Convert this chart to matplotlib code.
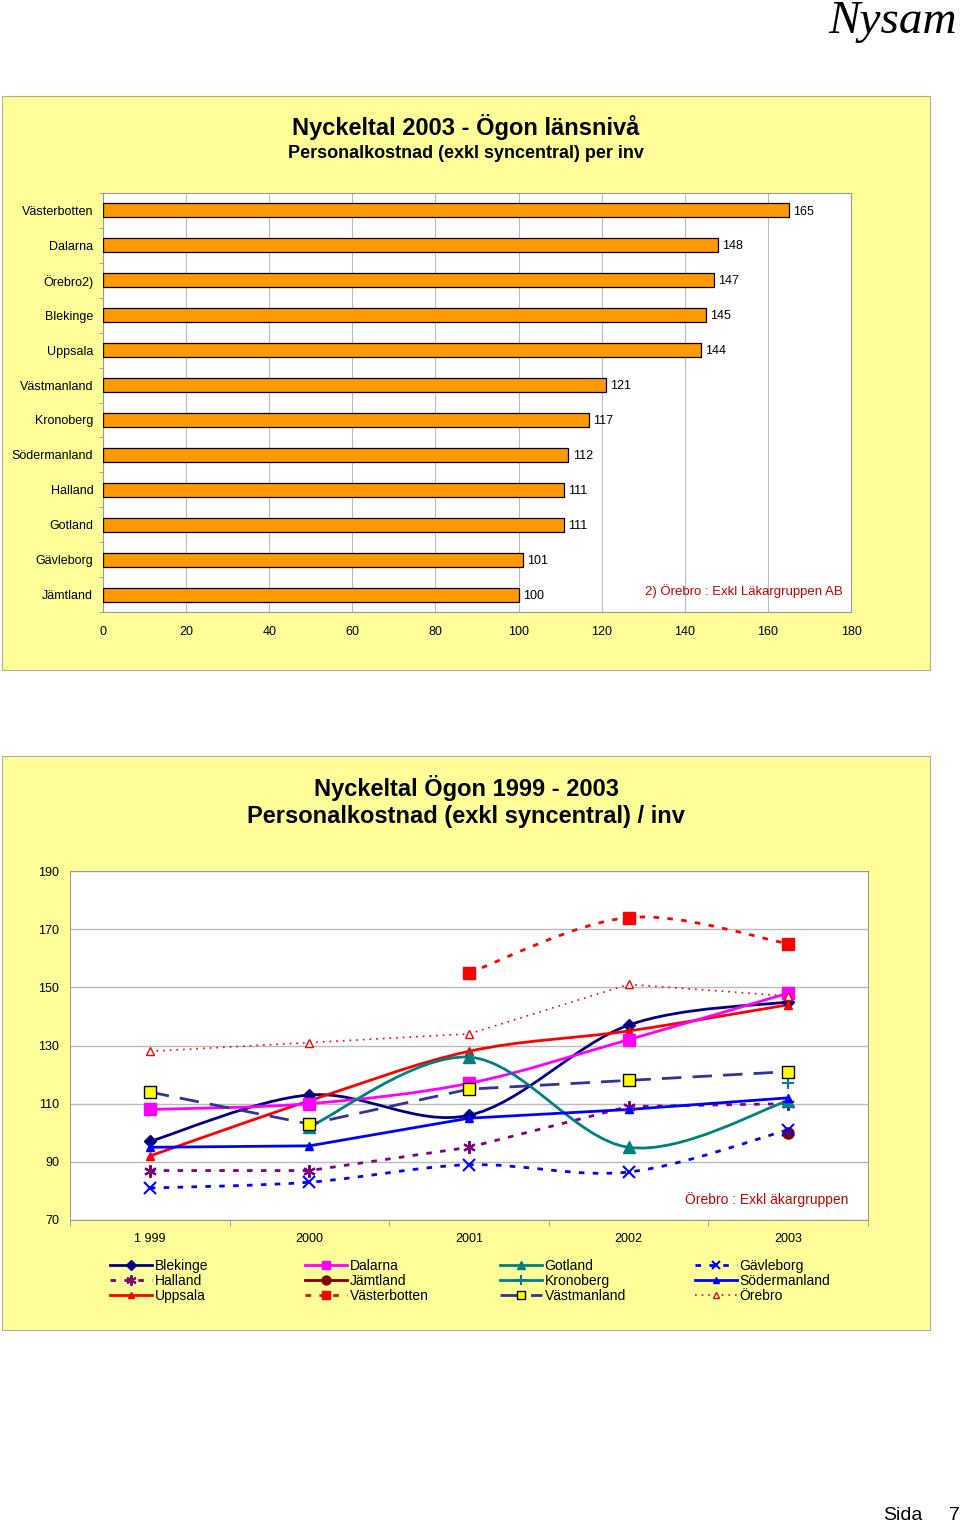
import numpy as np
import matplotlib
matplotlib.use("Agg")
import matplotlib.pyplot as plt
from matplotlib.patches import Rectangle, PathPatch
from matplotlib.path import Path
from matplotlib.lines import Line2D

plt.rcParams['font.family'] = ['Liberation Sans', 'DejaVu Sans']

# bar chart data (top to bottom)
bar_labels = ['Västerbotten', 'Dalarna', 'Örebro2)', 'Blekinge', 'Uppsala', 'Västmanland',
              'Kronoberg', 'Södermanland', 'Halland', 'Gotland', 'Gävleborg', 'Jämtland']
bar_values = [165, 148, 147, 145, 144, 121, 117, 112, 111, 111, 101, 100]

# line chart data
years = ['1 999', '2000', '2001', '2002', '2003']
blekinge = [97, 113, 106, 137, 145]
dalarna = [108, 110, 117, 132, 148]
gotland = [None, 102, 126, 95, 111]
gavleborg = [81, 83, 89, 86.5, 101]
halland = [87, 87, 95, 109, 110]
jamtland = [None, None, None, None, 100]
kronoberg = [None, None, None, None, 117]
sodermanland = [95, 95.5, 105, 108, 112]
uppsala = [92, 111, 128, 135, 144]
vasterbotten = [None, None, 155, 174, 165]
vastmanland = [114, 103, 115, 118, 121]
orebro = [128, 131, 134, 151, 147]

fig = plt.figure(figsize=(9.6, 15.24), dpi=100)
W, H = 960, 1524

def fx(px):
    return px / W

def fy(py):
    return 1 - py / H

# yellow backgrounds
for top, bot in [(96, 670), (756, 1330)]:
    fig.patches.append(Rectangle((fx(2), fy(bot)), fx(928), (bot - top) / H,
                                 transform=fig.transFigure, facecolor='#FFFF99',
                                 edgecolor='#B0B090', lw=0.8, zorder=-10))

fig.text(0.997, fy(22), 'Nysam', ha='right', va='center', fontsize=34,
         family='Liberation Serif', style='italic')
fig.text(fx(903), fy(1515), 'Sida', ha='center', va='center', fontsize=14)
fig.text(fx(954), fy(1515), '7', ha='center', va='center', fontsize=14)

# ---- bar chart ----
fig.text(fx(466), fy(127), 'Nyckeltal 2003 - Ögon länsnivå', ha='center', va='center',
         fontsize=17, fontweight='bold')
fig.text(fx(466), fy(154), 'Personalkostnad (exkl syncentral) per inv', ha='center',
         va='center', fontsize=13, fontweight='bold')

ax1 = fig.add_axes([fx(103), fy(612), fx(748), 419 / H])
pos = np.arange(len(bar_labels))
ax1.barh(pos, bar_values, height=0.4, color='#FF9900', edgecolor='black', lw=0.9, zorder=3)
for p, v in zip(pos, bar_values):
    ax1.text(v + 1, p + 0.03, str(v), va='center', ha='left', fontsize=9)
ax1.set_ylim(11.5, -0.5)
ax1.set_xlim(0, 180)
ax1.set_xticks(np.arange(0, 181, 20))
ax1.set_yticks(pos)
ax1.set_yticklabels(bar_labels)
ax1.set_yticks(np.arange(-0.5, 11.6, 1), minor=True)
ax1.tick_params(axis='y', which='major', length=0, labelsize=9, pad=7)
ax1.tick_params(axis='y', which='minor', length=3, color='#999999')
ax1.tick_params(axis='x', length=0, labelsize=9, pad=10)
ax1.grid(axis='x', color='#BBBBBB', lw=0.8, zorder=0)
for s in ax1.spines.values():
    s.set_color('#999999')
ax1.text(178, 10.9, '2) Örebro : Exkl Läkargruppen AB', color='#CC0000', ha='right',
         va='center', fontsize=9.5)

# ---- line chart ----
fig.text(fx(466), fy(788), 'Nyckeltal Ögon 1999 - 2003', ha='center', va='center',
         fontsize=17, fontweight='bold')
fig.text(fx(466), fy(817), 'Personalkostnad (exkl syncentral) / inv', ha='center',
         va='center', fontsize=17, fontweight='bold')

ax2 = fig.add_axes([fx(70), fy(1220), fx(798), 349 / H])
ax2.set_facecolor('white')
ax2.set_xlim(-0.5, 4.5)
ax2.set_ylim(70, 190)
ax2.set_yticks(np.arange(70, 191, 20))
ax2.set_xticks(np.arange(len(years)))
ax2.set_xticklabels(years)
ax2.set_xticks(np.arange(-0.5, 4.6, 1), minor=True)
ax2.tick_params(axis='x', which='major', length=0, labelsize=9, pad=9)
ax2.tick_params(axis='x', which='minor', length=4, color='#999999')
ax2.tick_params(axis='y', length=0, labelsize=9, pad=8)
ax2.grid(axis='y', color='#BBBBBB', lw=1.0, zorder=0)
for s in ax2.spines.values():
    s.set_color('#999999')


def smooth_path(xs, ys):
    verts = [(xs[0], ys[0])]
    codes = [Path.MOVETO]
    n = len(xs)
    for i in range(n - 1):
        a = i - 1 if i > 0 else i
        b = i + 2 if i + 2 < n else i + 1
        c1 = (xs[i] + (xs[i + 1] - xs[a]) / 6, ys[i] + (ys[i + 1] - ys[a]) / 6)
        c2 = (xs[i + 1] - (xs[b] - xs[i]) / 6, ys[i + 1] - (ys[b] - ys[i]) / 6)
        verts += [c1, c2, (xs[i + 1], ys[i + 1])]
        codes += [Path.CURVE4] * 3
    return Path(verts, codes)


series = [
    # name, data, color, ls, lw, marker, ms, mfc, mec, smooth
    ('Blekinge', blekinge, '#000080', '-', 2.0, 'D', 6, '#000080', '#000080', True),
    ('Halland', halland, '#800080', (0, (2, 3)), 2.0, (6, 2, 0), 9, '#800080', '#800080', False),
    ('Uppsala', uppsala, '#FF0000', '-', 2.0, '^', 6, '#FF0000', '#FF0000', True),
    ('Dalarna', dalarna, '#FF00FF', '-', 2.0, 's', 8, '#FF00FF', '#FF00FF', True),
    ('Jämtland', jamtland, '#800000', '-', 2.0, 'o', 8, '#800000', '#800000', False),
    ('Västerbotten', vasterbotten, '#FF0000', (0, (2, 3)), 2.0, 's', 8, '#FF0000', '#FF0000', True),
    ('Gotland', gotland, '#008080', '-', 2.0, '^', 8, '#008080', '#008080', True),
    ('Kronoberg', kronoberg, '#008080', '-', 2.0, '+', 9, '#008080', '#008080', False),
    ('Västmanland', vastmanland, '#333399', (0, (7, 4)), 2.0, 's', 8, '#FFFF00', '#000000', False),
    ('Gävleborg', gavleborg, '#0000FF', (0, (2, 3)), 2.0, 'x', 8, '#0000FF', '#0000FF', True),
    ('Södermanland', sodermanland, '#0000FF', '-', 2.0, '^', 6, '#0000FF', '#0000FF', False),
    ('Örebro', orebro, '#FF0000', (0, (1, 3)), 1.2, '^', 6, 'white', '#FF0000', False),
]

handles = []
for name, data, col, ls, lw, mk, ms, mfc, mec, sm in series:
    xs = [i for i, v in enumerate(data) if v is not None]
    ys = [v for v in data if v is not None]
    if len(xs) > 1:
        if sm:
            ax2.add_patch(PathPatch(smooth_path(xs, ys), fill=False, edgecolor=col,
                                    lw=lw, linestyle=ls, zorder=3))
        else:
            ax2.plot(xs, ys, color=col, ls=ls, lw=lw, zorder=3)
    mew = 1.5 if mk in ('x', '+') or isinstance(mk, tuple) else 1.0
    ax2.plot(xs, ys, ls='none', marker=mk, ms=ms, mfc=mfc, mec=mec, mew=mew, zorder=4)
    handles.append(Line2D([], [], color=col, ls=ls, lw=lw, marker=mk, ms=ms * 0.8,
                          mfc=mfc, mec=mec, mew=mew, label=name))

ax2.text(4.38, 77, 'Örebro : Exkl äkargruppen', color='#CC0000', ha='right', va='center',
         fontsize=10)

# legend: four columns of three, placed separately
for c, xleft in enumerate([110, 305, 500, 695]):
    leg = fig.legend(handles=handles[c * 3:(c + 1) * 3], loc='center left',
                     bbox_to_anchor=(fx(xleft), fy(1281)), frameon=False, fontsize=10,
                     handlelength=3.0, handletextpad=0.2, labelspacing=0.05,
                     borderpad=0, borderaxespad=0)

fig.savefig('out.png', dpi=100)
